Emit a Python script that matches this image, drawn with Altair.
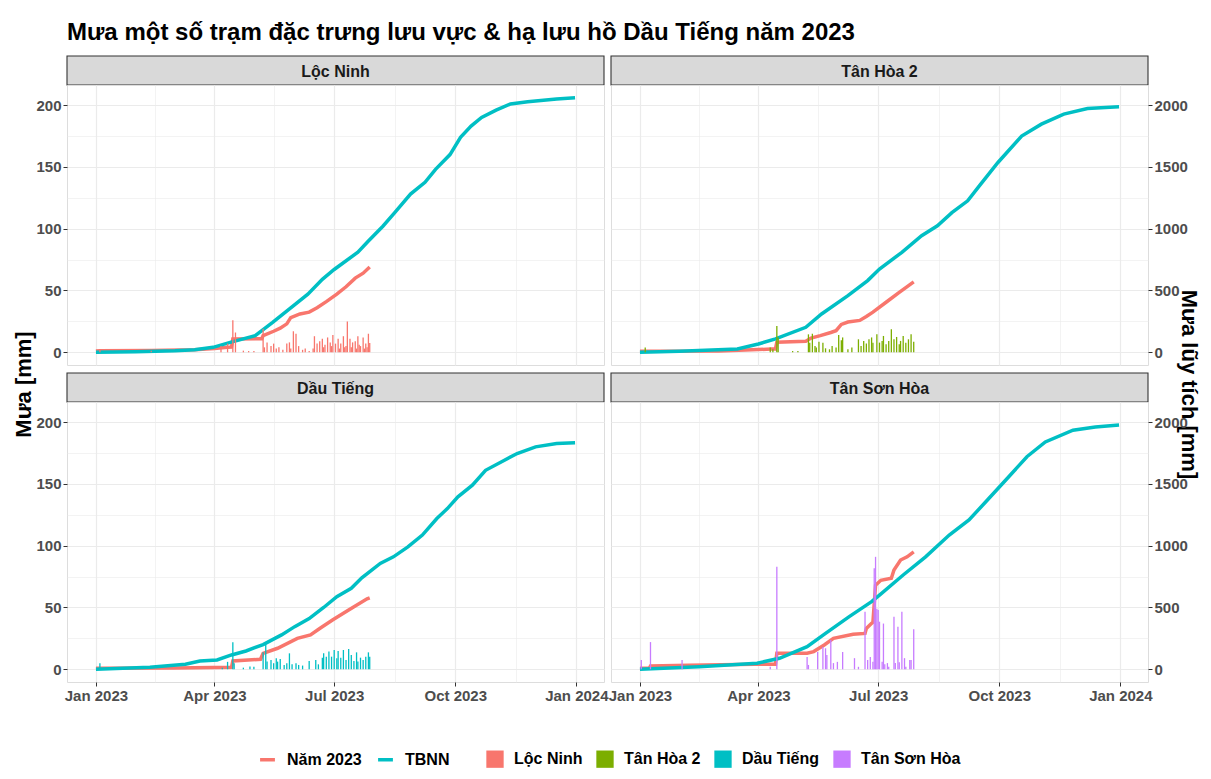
import altair as alt
import pandas as pd

TITLE = "Mưa một số trạm đặc trưng lưu vực & hạ lưu hồ Dầu Tiếng năm 2023"
Y_LEFT_TITLE = "Mưa [mm]"
Y_RIGHT_TITLE = "Mưa lũy tích [mm]"

stations = ["Lộc Ninh", "Tân Hòa 2", "Dầu Tiếng", "Tân Sơn Hòa"]
station_colors = ["#F8766D", "#7CAE00", "#00BFC4", "#C77CFF"]
series_names = ["Năm 2023", "TBNN"]
series_colors = ["#F8766D", "#00BFC4"]

# ---- daily rain 2023: (day offset from 1 Jan 2023, mm) ----
rain_loc_ninh = [(3, 2.7), (42, 1.3), (95, 5), (100, 7), (104, 26), (106, 16), (112, 1.3), (116, 1),
                 (120, 1), (127, 19), (128, 4), (130, 8), (133, 5), (135, 7), (137, 3), (139, 4),
                 (142, 2), (145, 7), (147, 8), (148, 3), (150, 17), (152, 15), (154, 5), (157, 2),
                 (159, 3), (162, 1), (165, 3), (166, 13), (168, 7), (170, 9), (172, 11), (173, 4),
                 (174, 6), (176, 12), (178, 8), (179, 5), (180, 14), (182, 7), (184, 11), (185, 3),
                 (186, 7), (188, 13), (189, 4), (190, 5), (191, 25), (193, 11), (194, 4), (195, 8),
                 (197, 9), (198, 3), (199, 13), (200, 6), (201, 5), (203, 12), (204, 3), (205, 7),
                 (206, 4), (207, 15), (208, 7.5)]
rain_tan_hoa_2 = [(4, 3.8), (99, 3.8), (101, 2.4), (104, 21.3), (105, 12), (116, 1), (120, 1),
                  (128, 14.5), (129, 7.8), (131, 15), (133, 5), (134, 3.8), (136, 8.6), (139, 7.8),
                  (141, 3.2), (144, 2.4), (146, 5), (149, 3.8), (151, 14), (153, 9.7), (154, 12),
                  (158, 2.4), (161, 3.8), (166, 10.5), (168, 5), (170, 9.2), (172, 7), (174, 10.5),
                  (176, 12), (177, 7.8), (180, 14.5), (182, 7.8), (184, 9.2), (185, 13.2), (187, 6.5),
                  (189, 9.2), (191, 18.6), (193, 10.5), (195, 12.4), (197, 6.5), (198, 9.2),
                  (200, 13.2), (202, 7.8), (204, 10.5), (206, 14.5), (208, 8.6)]
rain_dau_tieng = [(3, 4.9), (96, 1.3), (100, 6), (104, 21.8), (105, 4.9), (112, 1.3), (117, 2.2),
                  (120, 2), (127, 13.7), (129, 20), (130, 6.2), (133, 7.5), (135, 4.9), (137, 8.9),
                  (138, 6.2), (140, 8.4), (143, 3.5), (145, 4.9), (147, 12.9), (149, 4), (152, 4.9),
                  (154, 3.5), (157, 3), (162, 6.7), (167, 7.5), (169, 4), (172, 9.4), (173, 12.9),
                  (175, 10.2), (177, 14.3), (179, 10.2), (181, 15.6), (183, 8.9), (184, 14.8),
                  (186, 9.4), (188, 15.6), (190, 7.5), (192, 16.4), (194, 11.6), (196, 6.7),
                  (198, 13.7), (199, 6.2), (201, 9.4), (203, 7.5), (205, 10.2), (207, 13.7), (208, 10.2)]
rain_tan_son_hoa = [(1, 7.5), (8, 22), (32, 7.5), (99, 2), (104, 83), (127, 10), (128, 3.5),
                    (135, 14), (139, 18), (141, 17), (142, 11.6), (145, 23.7), (147, 5), (150, 6),
                    (154, 14), (163, 9), (166, 2), (171, 46.6), (173, 7.5), (175, 10), (177, 6),
                    (178, 81.7), (179, 91), (180, 49), (181, 48), (182, 38.5), (184, 6), (185, 37),
                    (186, 4), (188, 5), (189, 2), (193, 42.6), (194, 5), (196, 34.5), (197, 5.7),
                    (199, 46.6), (201, 9), (202, 2), (205, 7.5), (206, 7.5), (208, 32.3)]

# ---- cumulative rain 2023 (mm): (day offset, mm) ----
cum_loc_ninh = [(0, 10), (3, 13), (42, 15), (75, 20), (90, 30), (100, 40), (103, 42), (104, 108),
                (126, 110), (127, 135), (135, 170), (140, 195), (145, 230), (148, 280), (155, 310),
                (162, 325), (168, 360), (175, 410), (183, 470), (190, 530), (197, 600), (203, 640),
                (208, 690)]
cum_tan_hoa_2 = [(0, 8), (60, 10), (85, 20), (100, 26), (103, 27), (104, 82), (126, 90), (130, 115),
                 (137, 135), (145, 160), (149, 175), (153, 225), (158, 245), (167, 258), (172, 290),
                 (177, 325), (187, 405), (197, 485), (208, 570)]
cum_dau_tieng = [(0, 8), (60, 10), (103, 16), (104, 67), (125, 81), (127, 129), (138, 170),
                 (153, 250), (163, 278), (170, 330), (180, 400), (192, 480), (206, 570), (208, 578)]
cum_tan_son_hoa = [(0, 8), (7, 8), (8, 27), (37, 32), (87, 40), (103, 40), (104, 129), (127, 130),
                   (132, 143), (140, 197), (147, 250), (162, 283), (171, 290), (172, 330), (176, 372),
                   (177, 380), (179, 680), (183, 720), (191, 736), (193, 803), (198, 884), (203, 910),
                   (208, 950)]

# ---- cumulative long-term average TBNN (mm): (day offset, mm) ----
tbnn_loc_ninh = [(0, 0), (30, 5), (60, 12), (75, 20), (89, 40), (102, 80), (121, 135), (134, 240),
                 (148, 360), (161, 470), (172, 590), (181, 670), (199, 810), (207, 900), (218, 1020),
                 (227, 1130), (239, 1280), (250, 1375), (258, 1480), (269, 1600), (277, 1740),
                 (285, 1830), (293, 1900), (304, 1960), (315, 2010), (328, 2027), (350, 2050),
                 (364, 2060)]
tbnn_tan_hoa_2 = [(0, 0), (30, 8), (74, 27), (90, 67), (103, 108), (126, 202), (138, 310), (158, 458),
                  (173, 580), (182, 674), (199, 809), (214, 943), (226, 1024), (237, 1130),
                  (249, 1226), (258, 1348), (272, 1536), (290, 1750), (305, 1846), (322, 1927),
                  (340, 1973), (364, 1986)]
tbnn_dau_tieng = [(0, 0), (41, 16), (68, 40), (79, 67), (92, 75), (103, 116), (114, 148), (127, 200),
                  (141, 278), (151, 345), (162, 410), (173, 500), (183, 588), (194, 655), (202, 740),
                  (216, 857), (226, 910), (237, 990), (248, 1086), (259, 1220), (267, 1300),
                  (275, 1396), (286, 1490), (296, 1610), (310, 1690), (320, 1746), (334, 1800),
                  (350, 1827), (364, 1833)]
tbnn_tan_son_hoa = [(0, 0), (45, 20), (89, 49), (106, 89), (127, 183), (141, 290), (159, 426),
                    (176, 547), (182, 600), (200, 763), (217, 910), (235, 1086), (250, 1208),
                    (264, 1370), (279, 1544), (294, 1720), (308, 1840), (329, 1935), (346, 1960),
                    (364, 1976)]

rain_data = [rain_loc_ninh, rain_tan_hoa_2, rain_dau_tieng, rain_tan_son_hoa]
cum_data = [cum_loc_ninh, cum_tan_hoa_2, cum_dau_tieng, cum_tan_son_hoa]
tbnn_data = [tbnn_loc_ninh, tbnn_tan_hoa_2, tbnn_dau_tieng, tbnn_tan_son_hoa]

x_major = ["2023-01-01", "2023-04-01", "2023-07-01", "2023-10-01", "2024-01-01"]
x_minor = ["2023-02-14T12", "2023-05-16T12", "2023-08-16T00", "2023-11-16T00"]
y_ticks = [0, 25, 50, 75, 100, 125, 150, 175, 200]
SEC_FACTOR = 10  # secondary axis = primary * 10

START = pd.Timestamp("2023-01-01")


def to_date(d):
    return (START + pd.Timedelta(days=d)).strftime("%Y-%m-%d")


def ms(ts):
    return int(pd.Timestamp(ts, tz="UTC").value // 10**6)


# ---- tables ----
bar_rows, line_rows = [], []
for st, rain, cum, tb in zip(stations, rain_data, cum_data, tbnn_data):
    for d, v in rain:
        bar_rows.append({"station": st, "date": to_date(d), "rain": v})
    for d, v in cum:
        line_rows.append({"station": st, "series": series_names[0], "date": to_date(d), "val": v / SEC_FACTOR})
    for d, v in tb:
        line_rows.append({"station": st, "series": series_names[1], "date": to_date(d), "val": v / SEC_FACTOR})
bars_df = pd.DataFrame(bar_rows)
lines_df = pd.DataFrame(line_rows)
title_df = pd.DataFrame({"t": [Y_LEFT_TITLE, Y_RIGHT_TITLE]})

# ggplot-like expanded ranges
ymax = max(v for tb in tbnn_data for _, v in tb) / SEC_FACTOR
y_dom = [-0.05 * ymax, 1.05 * ymax]
x_lo, x_hi = 0, 364
pad = 0.05 * (x_hi - x_lo)
x_dom = [ms(START + pd.Timedelta(days=x_lo - pad)), ms(START + pd.Timedelta(days=x_hi + pad))]

W, H, SH, GAP, COLGAP = 537, 280, 29, 8, 7
FONT = "Liberation Sans"
GRID = "#EBEBEB"
NOVIEW = alt.ViewBackground(stroke=None)
YT_CENTER = H + (GAP + SH) / 2 + 1   # axis titles centred on the two panel rows

x_values = [alt.DateTime(year=int(s[:4]), month=int(s[5:7]), date=int(s[8:10]),
                         hours=int(s[11:13]) if len(s) > 10 else 0, utc=True)
            for s in x_major + x_minor]
x_major_test = "utcdate(datum.value) == 1 && utchours(datum.value) == 0"
y_major_test = "datum.value % 50 == 0"


def x_axis(show):
    common = dict(values=x_values, grid=True, gridColor=GRID, domain=False,
                  gridWidth={"condition": {"test": x_major_test, "value": 1.2}, "value": 0.6},
                  title=None)
    if show:
        return alt.Axis(**common,
                        labelExpr=f"({x_major_test}) ? utcFormat(datum.value, '%b %Y') : ''",
                        tickOpacity={"condition": {"test": x_major_test, "value": 1}, "value": 0},
                        tickColor="#333333", tickSize=4, labelFontSize=15, labelFontWeight="bold",
                        labelColor="#4D4D4D", labelPadding=2, labelFont=FONT, labelOverlap=False,
                        labelFlush=False)
    return alt.Axis(**common, labels=False, ticks=False)


def y_axis(side):
    if side == "left":
        lab = f"({y_major_test}) ? format(datum.value, 'd') : ''"
    else:
        lab = f"({y_major_test}) ? format(datum.value * {SEC_FACTOR}, 'd') : ''"
    return alt.Axis(values=y_ticks, orient=side, grid=True, gridColor=GRID, domain=False,
                    gridWidth={"condition": {"test": y_major_test, "value": 1.2}, "value": 0.6},
                    labelExpr=lab,
                    tickOpacity={"condition": {"test": y_major_test, "value": 1}, "value": 0},
                    tickColor="#333333", tickSize=4, labelFontSize=15, labelFontWeight="bold",
                    labelColor="#4D4D4D", labelPadding=2, labelFont=FONT, title=None)


# legend offsets are relative to the top-left corner of the first strip
stroke_legend = alt.Legend(title=None, orient="none", direction="horizontal", legendX=191,
                           legendY=694, symbolType="stroke", symbolStrokeWidth=3.5, symbolSize=220,
                           labelFontSize=16, labelFontWeight="bold", labelColor="black",
                           labelFont=FONT, labelOffset=10, columnPadding=9)
fill_legend = alt.Legend(title=None, orient="none", direction="horizontal", legendX=419,
                         legendY=694, symbolType="square", symbolSize=300, symbolStrokeWidth=0,
                         symbolOpacity=1, labelFontSize=16, labelFontWeight="bold", labelColor="black",
                         labelFont=FONT, labelOffset=10, columnPadding=13)

xscale = alt.Scale(type="utc", domain=x_dom, nice=False)
yscale = alt.Scale(domain=y_dom, nice=False, zero=False)
stroke_scale = alt.Scale(domain=series_names, range=series_colors)
fill_scale = alt.Scale(domain=stations, range=station_colors)


def panel(st, side, bottom, ytitle=None):
    xa = x_axis(bottom)
    ya = y_axis(side)
    layers = []
    for sname in series_names:
        layers.append(
            alt.Chart(lines_df).transform_filter(
                (alt.datum.station == st) & (alt.datum.series == sname)
            ).mark_line(strokeWidth=3.5, clip=True).encode(
                x=alt.X("date:T", scale=xscale, axis=xa),
                y=alt.Y("val:Q", scale=yscale, axis=ya),
                stroke=alt.Stroke("series:N", scale=stroke_scale, legend=stroke_legend),
            )
        )
    layers.append(
        alt.Chart(bars_df).transform_filter(alt.datum.station == st).mark_bar(width=1.3, clip=True).encode(
            x=alt.X("date:T", scale=xscale, axis=xa),
            y=alt.Y("rain:Q", scale=yscale, axis=ya),
            fill=alt.Fill("station:N", scale=fill_scale, legend=fill_legend),
        )
    )
    if ytitle is not None:
        tx = -43 if side == "left" else W + 41
        layers.append(
            alt.Chart(title_df).transform_filter(alt.datum.t == ytitle).mark_text(
                fontSize=22, fontWeight="bold", color="black", font=FONT,
                angle=270 if side == "left" else 90, align="center", baseline="middle"
            ).encode(text="t:N", x=alt.value(tx), y=alt.value(YT_CENTER))
        )
    return alt.layer(*layers).properties(width=W, height=H)


def strip(st, top_gap):
    df = pd.DataFrame({"station": [st]})
    rect = alt.Chart(df).mark_rect(fill="#D9D9D9", stroke="#333333", strokeWidth=1.1).encode(
        x=alt.value(0), x2=alt.value(W), y=alt.value(top_gap), y2=alt.value(top_gap + SH))
    txt = alt.Chart(df).mark_text(fontSize=16, fontWeight="bold", color="#1A1A1A", font=FONT,
                                  baseline="middle", align="center").encode(
        text="station:N", x=alt.value(W / 2), y=alt.value(top_gap + SH / 2 + 1))
    return alt.layer(rect, txt).properties(width=W, height=SH + top_gap, view=NOVIEW)


cells = [
    strip(stations[0], 0), strip(stations[1], 0),
    panel(stations[0], "left", False, Y_LEFT_TITLE), panel(stations[1], "right", False, Y_RIGHT_TITLE),
    strip(stations[2], GAP), strip(stations[3], GAP),
    panel(stations[2], "left", True), panel(stations[3], "right", True),
]

chart = alt.concat(*cells, columns=2, spacing={"row": 0, "column": COLGAP},
                   bounds="flush", align="each").properties(
    title=alt.TitleParams(TITLE, anchor="start", fontSize=24, fontWeight="bold", color="black",
                          font=FONT, offset=10, frame="group"),
    padding={"left": 4, "top": 13, "right": 0, "bottom": 0},
).resolve_scale(stroke="shared", fill="shared").configure_view(
    stroke="#333333", strokeWidth=1.1
).configure(font=FONT, background="white")

chart.save("out.html", embed_options={"renderer": "svg", "actions": False})
